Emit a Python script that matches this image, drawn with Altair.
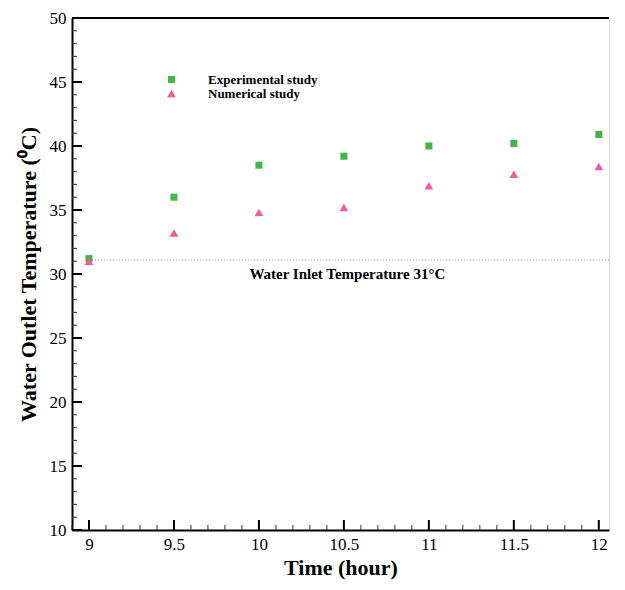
import altair as alt
import pandas as pd

# ---- data ----
hours = [9, 9.5, 10, 10.5, 11, 11.5, 12]
experimental = [31.2, 36.0, 38.5, 39.2, 40.0, 40.2, 40.9]
numerical = [31.0, 33.2, 34.8, 35.2, 36.9, 37.8, 38.4]
series_names = ["Experimental study", "Numerical study"]
inlet_temp = [31.1]
inlet_label = ["Water Inlet Temperature 31°C"]
inlet_label_pos = [10.52, 30.0]

x_major = [9, 9.5, 10, 10.5, 11, 11.5, 12]
x_minor = [round(8.9 + 0.1 * i, 1) for i in range(32)]
x_minor = [v for v in x_minor if v not in x_major]
y_major = [10, 15, 20, 25, 30, 35, 40, 45, 50]
y_minor = [v for v in range(10, 51) if v not in y_major]

W, H = 537, 512
FONT = "Liberation Serif"

df = pd.DataFrame({
    "hour": hours * 2,
    "temp": experimental + numerical,
    "series": [series_names[0]] * len(hours) + [series_names[1]] * len(hours),
})

xs = alt.Scale(domain=[8.9, 12.06], nice=False, zero=False)
ys = alt.Scale(domain=[10, 50], nice=False, zero=False)

points = alt.Chart(df).mark_point(filled=True, opacity=1, strokeWidth=0).encode(
    x=alt.X("hour:Q", scale=xs, title="Time (hour)",
            axis=alt.Axis(values=x_major, format="~g", ticks=False, grid=False,
                          domainColor="black", domainWidth=2, labelPadding=6,
                          labelFontSize=17, labelFont=FONT, labelColor="black",
                          titleFont=FONT, titleFontSize=22, titleFontWeight="bold",
                          titleColor="black", titlePadding=5)),
    y=alt.Y("temp:Q", scale=ys, title="Water Outlet Temperature (⁰C)",
            axis=alt.Axis(values=y_major, ticks=False, grid=False,
                          domainColor="black", domainWidth=2, labelPadding=6,
                          labelFontSize=17, labelFont=FONT, labelColor="black",
                          titleFont=FONT, titleFontSize=22, titleFontWeight="bold",
                          titleColor="black", titlePadding=9)),
    color=alt.Color("series:N", scale=alt.Scale(domain=series_names, range=["#44b649", "#ef5ba1"]),
                    legend=alt.Legend(title=None, orient="none", legendX=93, legendY=55,
                                      labelFont=FONT, labelFontSize=13, labelFontWeight="bold",
                                      labelColor="black", labelOffset=30, rowPadding=0,
                                      symbolStrokeWidth=0, symbolOpacity=1)),
    shape=alt.Shape("series:N", scale=alt.Scale(domain=series_names, range=["square", "triangle-up"])),
    size=alt.Size("series:N", scale=alt.Scale(domain=series_names, range=[50, 75])),
)

ymaj = alt.Chart(pd.DataFrame({"v": y_major})).mark_rule(color="black", strokeWidth=2).encode(
    y=alt.Y("v:Q", scale=ys), x=alt.value(0), x2=alt.value(10))
ymin = alt.Chart(pd.DataFrame({"v": y_minor})).mark_rule(color="#333", strokeWidth=1).encode(
    y=alt.Y("v:Q", scale=ys), x=alt.value(0), x2=alt.value(5))
xmaj = alt.Chart(pd.DataFrame({"v": x_major})).mark_rule(color="black", strokeWidth=2).encode(
    x=alt.X("v:Q", scale=xs), y=alt.value(H), y2=alt.value(H - 10))
xmin = alt.Chart(pd.DataFrame({"v": x_minor})).mark_rule(color="#333", strokeWidth=1).encode(
    x=alt.X("v:Q", scale=xs), y=alt.value(H), y2=alt.value(H - 5))

top = alt.Chart(pd.DataFrame({"a": [0]})).mark_rule(color="black", strokeWidth=2).encode(
    y=alt.value(0), x=alt.value(0), x2=alt.value(W))

inlet = alt.Chart(pd.DataFrame({"t": inlet_temp, "x0": [9]})).mark_rule(
    color="#888", strokeWidth=1, strokeDash=[1, 2]).encode(
    y=alt.Y("t:Q", scale=ys), x=alt.X("x0:Q", scale=xs), x2=alt.value(W))

label = alt.Chart(pd.DataFrame({"x": [inlet_label_pos[0]], "y": [inlet_label_pos[1]], "s": inlet_label})).mark_text(
    font=FONT, fontSize=15, fontWeight="bold", color="black", align="center", baseline="middle").encode(
    x=alt.X("x:Q", scale=xs), y=alt.Y("y:Q", scale=ys), text="s:N")

chart = alt.layer(inlet, ymin, ymaj, xmin, xmaj, top, points, label).properties(
    width=W, height=H,
    autosize=alt.AutoSizeParams(type="none"),
    padding={"left": 64, "top": 10, "right": 8, "bottom": 52},
).configure_view(stroke=None).configure(background="white")

chart.save("out.html", embed_options={"renderer": "svg", "actions": False})
